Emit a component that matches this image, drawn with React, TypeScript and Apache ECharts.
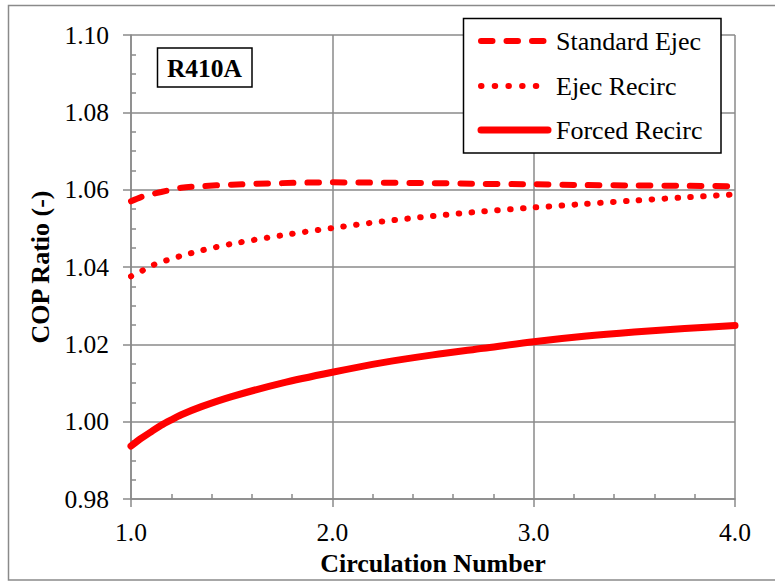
import React, { useEffect, useRef } from "react";
import * as echarts from "echarts";

const circulation = [1.0, 1.05, 1.1, 1.15, 1.2, 1.25, 1.35, 1.5, 1.75, 2.0, 2.25, 2.5, 2.75, 3.0, 3.25, 3.5, 3.75, 4.0];
const standardEjec = [1.057, 1.0581, 1.0588, 1.0594, 1.06, 1.0605, 1.0609, 1.0613, 1.0617, 1.0619, 1.0618, 1.0617, 1.0615, 1.0614, 1.0612, 1.0611, 1.061, 1.0609];
const ejecRecirc = [1.0376, 1.0389, 1.0403, 1.0413, 1.0421, 1.0429, 1.0443, 1.046, 1.0482, 1.0501, 1.0518, 1.0532, 1.0544, 1.0554, 1.0563, 1.0572, 1.058, 1.0588];
const forcedRecirc = [0.9937, 0.9957, 0.9974, 0.9991, 1.0005, 1.0018, 1.0039, 1.0065, 1.01, 1.0128, 1.0153, 1.0173, 1.019, 1.0207, 1.0221, 1.0232, 1.0241, 1.0249];

const seriesNames = ["Standard Ejec", "Ejec Recirc", "Forced Recirc"];
const xTitle = "Circulation Number";
const yTitle = "COP Ratio (-)";
const refrigerant = "R410A";

const FONT = "Liberation Serif";
const GRAY = "#8a8a8a";
const RED = "#ff0000";

const pairs = (ys: number[]) => circulation.map((x, i) => [x, ys[i]]);

export default function App() {
  const ref = useRef<HTMLDivElement>(null);
  useEffect(() => {
    if (!ref.current) return;
    const chart = echarts.init(ref.current, null, { renderer: "svg" });
    const axisCommonX = { type: "value", min: 1, max: 4, interval: 1, position: "bottom", gridIndex: 0 };
    const axisCommonY = { type: "value", min: 0.98, max: 1.1, interval: 0.02, position: "left", gridIndex: 0 };
    const legendY = [41, 86, 130];
    const lineStyles = [
      { lineWidth: 6, lineDash: [11.5, 14], lineCap: "round" },
      { lineWidth: 6, lineDash: [0.5, 13.2], lineCap: "round" },
      { lineWidth: 7, lineCap: "round" },
    ];
    const legendEls: any[] = [];
    seriesNames.forEach((n, i) => {
      legendEls.push({
        type: "line",
        shape: { x1: 481, y1: legendY[i], x2: 548, y2: legendY[i] },
        style: { stroke: RED, fill: null, ...lineStyles[i] },
        z: 101,
      });
      legendEls.push({
        type: "text",
        x: 556,
        y: legendY[i],
        style: {
          text: n,
          fontFamily: FONT,
          fontSize: 26,
          fill: "#000",
          verticalAlign: "middle",
          align: "left",
        },
        z: 101,
      });
    });
    chart.setOption({
      animation: false,
      backgroundColor: "#fff",
      grid: { left: 131, top: 35, right: 40, bottom: 80.3, containLabel: false },
      xAxis: [
        {
          ...axisCommonX,
          axisLine: { show: true, lineStyle: { color: GRAY, width: 1.5 } },
          axisTick: { show: true, length: 8, lineStyle: { color: GRAY, width: 1.5 } },
          axisLabel: {
            margin: 20,
            fontFamily: FONT,
            fontSize: 25.5,
            color: "#000",
            formatter: (v: number) => v.toFixed(1),
          },
          splitLine: { show: true, lineStyle: { color: GRAY, width: 1.5 } },
          name: xTitle,
          nameLocation: "middle",
          nameGap: 48,
          nameTextStyle: { fontFamily: FONT, fontSize: 26, fontWeight: "bold", color: "#000" },
        },
        {
          ...axisCommonX,
          axisLine: { show: false },
          axisTick: { show: false, inside: true },
          axisLabel: { show: false },
          splitLine: { show: false },
          minorTick: { show: true, splitNumber: 5, length: 5, lineStyle: { color: GRAY, width: 1.5 } },
        },
      ],
      yAxis: [
        {
          ...axisCommonY,
          axisLine: { show: true, lineStyle: { color: GRAY, width: 1.5 } },
          axisTick: { show: true, length: 8, lineStyle: { color: GRAY, width: 1.5 } },
          axisLabel: {
            margin: 22,
            fontFamily: FONT,
            fontSize: 25.5,
            color: "#000",
            formatter: (v: number) => v.toFixed(2),
          },
          splitLine: { show: true, lineStyle: { color: GRAY, width: 1.5 } },
          name: yTitle,
          nameLocation: "middle",
          nameGap: 78,
          nameTextStyle: { fontFamily: FONT, fontSize: 26, fontWeight: "bold", color: "#000" },
        },
        {
          ...axisCommonY,
          axisLine: { show: false },
          axisTick: { show: false, inside: true },
          axisLabel: { show: false },
          splitLine: { show: false },
          minorTick: { show: true, splitNumber: 4, length: 5, lineStyle: { color: GRAY, width: 1.5 } },
        },
      ],
      series: [
        {
          name: seriesNames[0],
          type: "line",
          xAxisIndex: 0,
          yAxisIndex: 0,
          data: pairs(standardEjec),
          smooth: 0.3,
          showSymbol: false,
          lineStyle: { color: RED, width: 6, type: [11.5, 14], cap: "round" },
        },
        {
          name: seriesNames[1],
          type: "line",
          xAxisIndex: 0,
          yAxisIndex: 0,
          data: pairs(ejecRecirc),
          smooth: 0.3,
          showSymbol: false,
          lineStyle: { color: RED, width: 6, type: [0.5, 12.4], cap: "round" },
        },
        {
          name: seriesNames[2],
          type: "line",
          xAxisIndex: 0,
          yAxisIndex: 0,
          data: pairs(forcedRecirc),
          smooth: 0.3,
          showSymbol: false,
          lineStyle: { color: RED, width: 7, cap: "round" },
        },
      ],
      graphic: [
        {
          type: "rect",
          shape: { x: 8.5, y: 5.5, width: 772, height: 574.5 },
          style: { stroke: GRAY, lineWidth: 1.5, fill: null },
          silent: true,
          z: 0,
        },
        {
          type: "rect",
          shape: { x: 157.5, y: 48, width: 94.5, height: 39 },
          style: { stroke: "#000", lineWidth: 1.5, fill: "#fff" },
          z: 100,
        },
        {
          type: "text",
          x: 204.5,
          y: 68,
          style: {
            text: refrigerant,
            fontFamily: FONT,
            fontSize: 25.5,
            fontWeight: "bold",
            fill: "#000",
            align: "center",
            verticalAlign: "middle",
          },
          z: 101,
        },
        {
          type: "rect",
          shape: { x: 463.5, y: 18.5, width: 257.5, height: 134.5 },
          style: { stroke: "#000", lineWidth: 1.5, fill: "#fff" },
          z: 100,
        },
        ...legendEls,
      ],
    });
    return () => chart.dispose();
  }, []);
  return (
    <div
      ref={ref}
      style={{ position: "fixed", left: 0, top: 0, width: 775, height: 581, background: "#fff" }}
    />
  );
}
